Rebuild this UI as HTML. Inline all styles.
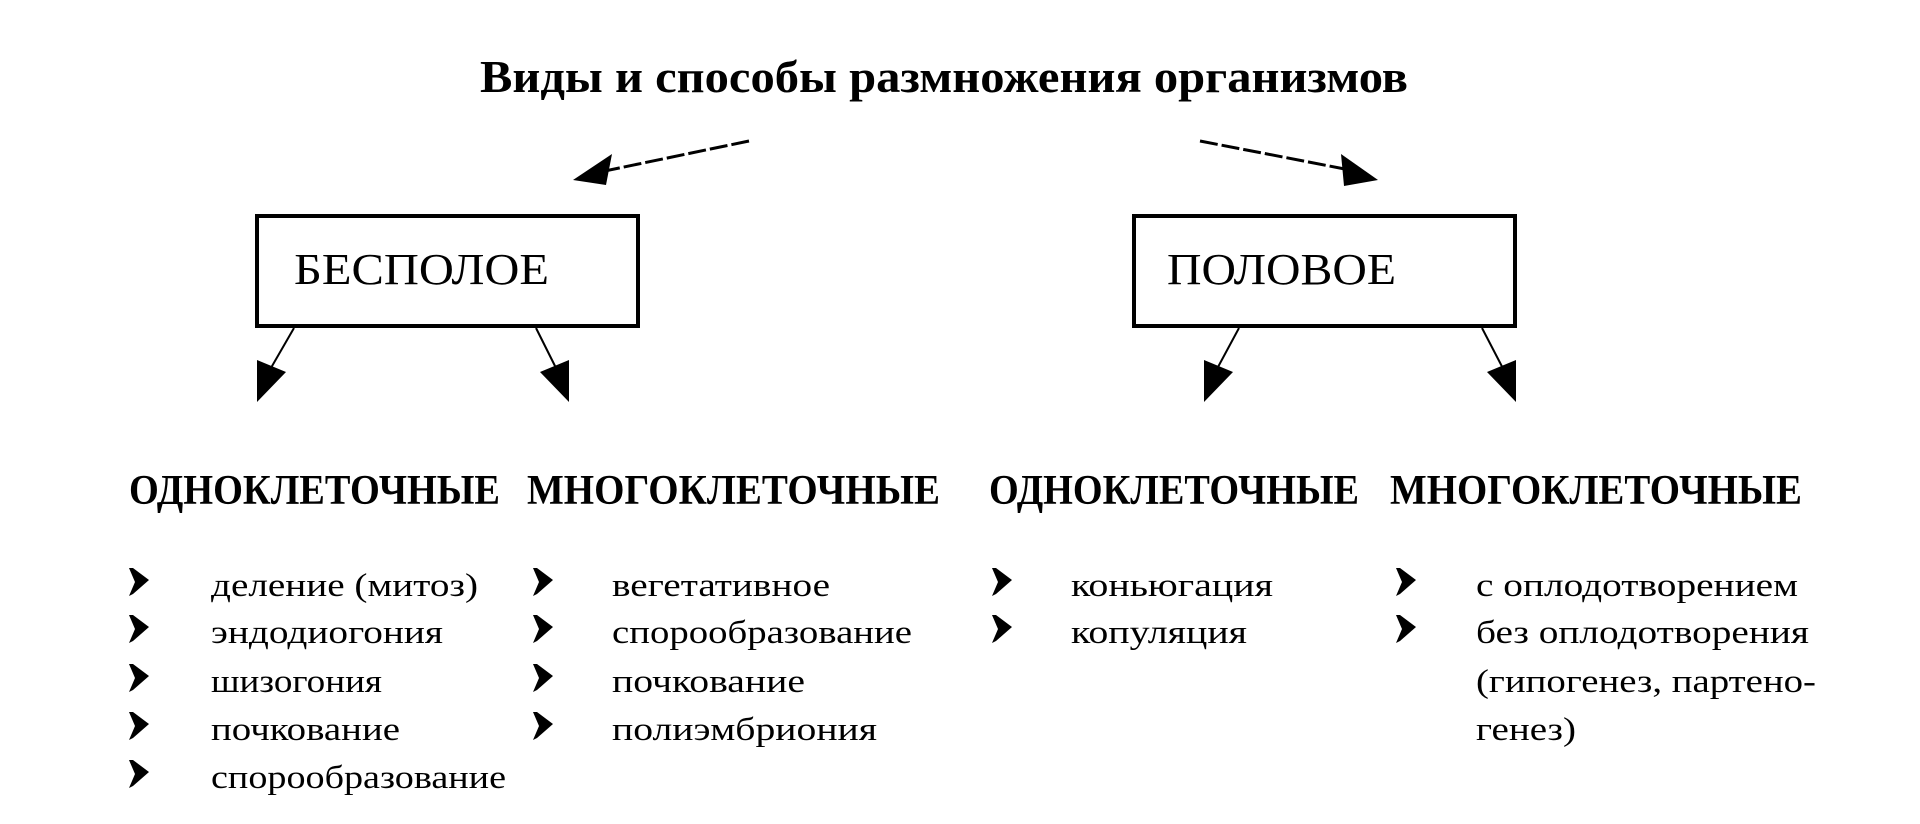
<!DOCTYPE html>
<html><head><meta charset="utf-8"><style>html,body{margin:0;padding:0;background:#fff;}svg{display:block}</style></head>
<body>
<svg width="1920" height="824" viewBox="0 0 1920 824" xmlns="http://www.w3.org/2000/svg" font-family="'Liberation Serif', 'DejaVu Serif', serif">
<defs>
<g id="b"><path d="M0,0 L4,0 L20,12 L4,26 L0,28 L6,14 Z" fill="#000"/></g>
</defs>
<rect width="1920" height="824" fill="#fff"/>
<text x="480" y="92" font-size="46" font-weight="bold" textLength="928" lengthAdjust="spacingAndGlyphs">Виды и способы размножения организмов</text>

<!-- top arrows -->
<line x1="749" y1="141" x2="600" y2="172" stroke="#000" stroke-width="3" stroke-dasharray="18,4"/>
<polygon points="573,180 612,154 606,185" fill="#000"/>
<line x1="1200" y1="141" x2="1350" y2="170" stroke="#000" stroke-width="3" stroke-dasharray="18,4"/>
<polygon points="1378,180 1341,154 1344,186" fill="#000"/>

<!-- boxes -->
<rect x="257" y="216" width="381" height="110" fill="#fff" stroke="#000" stroke-width="4"/>
<text x="294" y="284" font-size="44" textLength="255" lengthAdjust="spacingAndGlyphs">БЕСПОЛОЕ</text>
<rect x="1134" y="216" width="381" height="110" fill="#fff" stroke="#000" stroke-width="4"/>
<text x="1167" y="284" font-size="44" textLength="229" lengthAdjust="spacingAndGlyphs">ПОЛОВОЕ</text>

<!-- box arrows -->
<line x1="294" y1="328" x2="264" y2="380" stroke="#000" stroke-width="2"/>
<polygon points="257,402 257,360 286,372" fill="#000"/>
<line x1="536" y1="328" x2="562" y2="380" stroke="#000" stroke-width="2"/>
<polygon points="569,402 569,360 540,372" fill="#000"/>
<line x1="1239" y1="328" x2="1211" y2="380" stroke="#000" stroke-width="2"/>
<polygon points="1204,402 1204,360 1233,372" fill="#000"/>
<line x1="1482" y1="328" x2="1509" y2="380" stroke="#000" stroke-width="2"/>
<polygon points="1516,402 1516,360 1487,372" fill="#000"/>

<!-- headers -->
<g font-size="42" font-weight="bold">
<text x="129" y="504" textLength="371" lengthAdjust="spacingAndGlyphs">ОДНОКЛЕТОЧНЫЕ</text>
<text x="527" y="504" textLength="413" lengthAdjust="spacingAndGlyphs">МНОГОКЛЕТОЧНЫЕ</text>
<text x="989" y="504" textLength="370" lengthAdjust="spacingAndGlyphs">ОДНОКЛЕТОЧНЫЕ</text>
<text x="1390" y="504" textLength="412" lengthAdjust="spacingAndGlyphs">МНОГОКЛЕТОЧНЫЕ</text>
</g>

<!-- bullets -->
<use href="#b" x="129" y="568"/><use href="#b" x="129" y="615"/><use href="#b" x="129" y="664"/><use href="#b" x="129" y="712"/><use href="#b" x="129" y="760"/>
<use href="#b" x="533" y="568"/><use href="#b" x="533" y="615"/><use href="#b" x="533" y="664"/><use href="#b" x="533" y="712"/>
<use href="#b" x="992" y="568"/><use href="#b" x="992" y="615"/>
<use href="#b" x="1396" y="568"/><use href="#b" x="1396" y="615"/>

<g font-size="33">
<text x="211" y="596" textLength="267" lengthAdjust="spacingAndGlyphs">деление (митоз)</text>
<text x="211" y="643" textLength="232" lengthAdjust="spacingAndGlyphs">эндодиогония</text>
<text x="211" y="692" textLength="171" lengthAdjust="spacingAndGlyphs">шизогония</text>
<text x="211" y="740" textLength="189" lengthAdjust="spacingAndGlyphs">почкование</text>
<text x="211" y="788" textLength="295" lengthAdjust="spacingAndGlyphs">спорообразование</text>

<text x="612" y="596" textLength="218" lengthAdjust="spacingAndGlyphs">вегетативное</text>
<text x="612" y="643" textLength="300" lengthAdjust="spacingAndGlyphs">спорообразование</text>
<text x="612" y="692" textLength="193" lengthAdjust="spacingAndGlyphs">почкование</text>
<text x="612" y="740" textLength="265" lengthAdjust="spacingAndGlyphs">полиэмбриония</text>

<text x="1071" y="596" textLength="202" lengthAdjust="spacingAndGlyphs">коньюгация</text>
<text x="1071" y="643" textLength="176" lengthAdjust="spacingAndGlyphs">копуляция</text>

<text x="1476" y="596" textLength="322" lengthAdjust="spacingAndGlyphs">с оплодотворением</text>
<text x="1476" y="643" textLength="333" lengthAdjust="spacingAndGlyphs">без оплодотворения</text>
<text x="1476" y="692" textLength="340" lengthAdjust="spacingAndGlyphs">(гипогенез, партено-</text>
<text x="1476" y="740" textLength="100" lengthAdjust="spacingAndGlyphs">генез)</text>
</g>
</svg>
</body></html>
